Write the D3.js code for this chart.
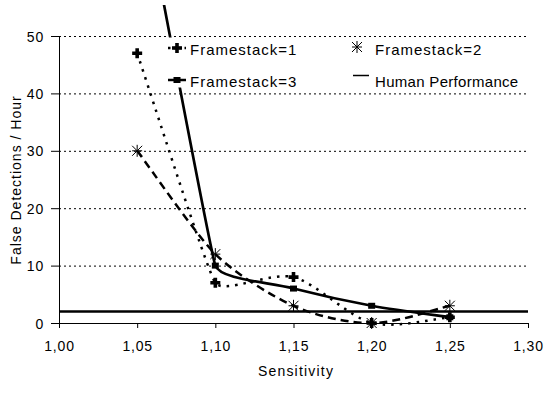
<!DOCTYPE html>
<html><head><meta charset="utf-8">
<script src="https://cdn.jsdelivr.net/npm/d3@7"></script>
<style>
html,body{margin:0;padding:0;background:#fff;}
svg{display:block;}
text{font-family:"Liberation Sans",Arial,Helvetica,sans-serif;fill:#000;}
</style></head>
<body>
<script>
const sensitivity = [1.05, 1.10, 1.15, 1.20, 1.25];
const framestack1 = [47, 7, 8, 0, 1];
const framestack2 = [30, 12, 3, 0, 3];
const framestack3 = [80, 10, 6, 3, 1];
const humanPerformance = 2;
const xTicks = [1.00, 1.05, 1.10, 1.15, 1.20, 1.25, 1.30];
const yTicks = [0, 10, 20, 30, 40, 50];
const seriesNames = ["Framestack=1", "Framestack=2", "Framestack=3", "Human Performance"];

const W = 550, H = 400;
const svg = d3.select("body").append("svg").attr("width", W).attr("height", H);

const x = d3.scaleLinear().domain([1.0, 1.3]).range([59, 528]);
const y = d3.scaleLinear().domain([0, 50]).range([323, 36]);

// Spreadsheet-like smoothing: cardinal tangents, shortened where neighbouring segments differ in length
function SmoothCurve(context) { this._context = context; }
SmoothCurve.prototype = {
  areaStart() {}, areaEnd() {},
  lineStart() { this._p = []; },
  point(px, py) { this._p.push([+px, +py]); },
  lineEnd() {
    const p = this._p, n = p.length, c = this._context;
    if (!n) return;
    c.moveTo(p[0][0], p[0][1]);
    if (n === 1) return;
    const dist = (a, b) => Math.hypot(b[0] - a[0], b[1] - a[1]);
    const tan = p.map((pt, i) => {
      if (i === 0) return [(p[1][0] - pt[0]) / 6, (p[1][1] - pt[1]) / 6];
      if (i === n - 1) return [(pt[0] - p[i - 1][0]) / 6, (pt[1] - p[i - 1][1]) / 6];
      const d0 = dist(p[i - 1], pt), d1 = dist(pt, p[i + 1]);
      const f = Math.min(d0, d1) / Math.max(d0, d1) / 6;
      return [(p[i + 1][0] - p[i - 1][0]) * f, (p[i + 1][1] - p[i - 1][1]) * f];
    });
    for (let i = 0; i < n - 1; i++) {
      const a = p[i], b = p[i + 1];
      c.bezierCurveTo(a[0] + tan[i][0], a[1] + tan[i][1], b[0] - tan[i + 1][0], b[1] - tan[i + 1][1], b[0], b[1]);
    }
  }
};
const smooth = ctx => new SmoothCurve(ctx);

// gridlines
svg.append("g").selectAll("line").data(yTicks.filter(d => d > 0)).join("line")
  .attr("x1", x(1.0)).attr("x2", x(1.3))
  .attr("y1", d => y(d) + 0.5).attr("y2", d => y(d) + 0.5)
  .attr("stroke", "#000").attr("stroke-width", 1).attr("stroke-dasharray", "2,3");

const fmt = d => d3.format(".2f")(d).replace(".", ",");

// x axis
const xAxis = svg.append("g").attr("transform", `translate(0,${y(0)})`)
  .call(d3.axisBottom(x).tickValues(xTicks).tickFormat(fmt).tickSize(5).tickSizeOuter(0));
xAxis.selectAll("text").attr("font-size", 14).attr("dy", "0").attr("y", 28)
  .attr("letter-spacing", 0.8).attr("font-family", "Liberation Sans, Arial, sans-serif");

// y axis
const yAxis = svg.append("g").attr("transform", `translate(${x(1.0)},0)`)
  .call(d3.axisLeft(y).tickValues(yTicks).tickFormat(d3.format("d")).tickSize(8).tickSizeOuter(0));
yAxis.selectAll("text").attr("font-size", 14).attr("x", -15).attr("dy", "0.36em")
  .attr("letter-spacing", 0.8).attr("font-family", "Liberation Sans, Arial, sans-serif");

// human performance line
svg.append("line").attr("x1", x(1.0)).attr("x2", x(1.3))
  .attr("y1", y(humanPerformance)).attr("y2", y(humanPerformance))
  .attr("stroke", "#000").attr("stroke-width", 2.5);

// clip for series
svg.append("clipPath").attr("id", "clip").append("rect")
  .attr("x", 0).attr("y", 5).attr("width", W).attr("height", H - 5);

const line = d3.line().x(d => x(d[0])).y(d => y(d[1])).curve(smooth);
const g = svg.append("g").attr("clip-path", "url(#clip)");

const s1 = sensitivity.map((s, i) => [s, framestack1[i]]);
const s2 = sensitivity.map((s, i) => [s, framestack2[i]]);
const s3 = sensitivity.map((s, i) => [s, framestack3[i]]);

g.append("path").datum(s1).attr("d", line).attr("fill", "none").attr("stroke", "#000")
  .attr("stroke-width", 2.5).attr("stroke-dasharray", "2.5,6");
g.append("path").datum(s2).attr("d", line).attr("fill", "none").attr("stroke", "#000")
  .attr("stroke-width", 2.5).attr("stroke-dasharray", "8,5");
g.append("path").datum(s3).attr("d", line).attr("fill", "none").attr("stroke", "#000")
  .attr("stroke-width", 2.7);

// markers
const plusPath = "M-1.8,-5H1.8V-1.8H5V1.8H1.8V5H-1.8V1.8H-5V-1.8H-1.8Z";
function plus(sel, cx, cy) { sel.append("path").attr("d", plusPath).attr("transform", `translate(${cx},${cy})`).attr("fill", "#000"); }
function star(sel, cx, cy) {
  const r = 5;
  sel.append("path").attr("transform", `translate(${cx},${cy})`)
    .attr("d", `M${-r},${-r}L${r},${r}M${-r},${r}L${r},${-r}M0,${-r - 1}L0,${r + 1}M${-r},0L${r},0`)
    .attr("stroke", "#000").attr("stroke-width", 1).attr("fill", "none");
}
function square(sel, cx, cy) { sel.append("rect").attr("x", cx - 3.5).attr("y", cy - 3).attr("width", 7).attr("height", 6).attr("fill", "#000"); }

const mk = svg.append("g").attr("clip-path", "url(#clip)");
s3.forEach(d => square(mk, x(d[0]), y(d[1])));
s1.forEach(d => plus(mk, x(d[0]), y(d[1])));
s2.forEach(d => star(mk, x(d[0]), y(d[1])));

// legend
const lg = svg.append("g");
lg.append("rect").attr("x", 165).attr("y", 37.5).attr("width", 368).attr("height", 50).attr("fill", "#fff");
// row 1
lg.append("line").attr("x1", 168).attr("x2", 186).attr("y1", 48).attr("y2", 48)
  .attr("stroke", "#000").attr("stroke-width", 2.5).attr("stroke-dasharray", "2.5,3");
plus(lg, 177, 48);
lg.append("text").attr("x", 190).attr("y", 54.5).attr("font-size", 15).attr("letter-spacing", 1).text(seriesNames[0]);
star(lg, 357, 47);
lg.append("text").attr("x", 375).attr("y", 54.5).attr("font-size", 15).attr("letter-spacing", 1).text(seriesNames[1]);
// row 2
lg.append("line").attr("x1", 168).attr("x2", 186).attr("y1", 80).attr("y2", 80)
  .attr("stroke", "#000").attr("stroke-width", 2.5);
square(lg, 177, 80);
lg.append("text").attr("x", 190).attr("y", 87).attr("font-size", 15).attr("letter-spacing", 1).text(seriesNames[2]);
lg.append("line").attr("x1", 353).attr("x2", 369).attr("y1", 75.5).attr("y2", 75.5)
  .attr("stroke", "#000").attr("stroke-width", 1.5);
lg.append("text").attr("x", 375).attr("y", 86.5).attr("font-size", 15).attr("letter-spacing", 0.3).text(seriesNames[3]);

// axis titles
svg.append("text").attr("x", 296).attr("y", 376).attr("text-anchor", "middle")
  .attr("font-size", 14).attr("letter-spacing", 1.2).text("Sensitivity");
svg.append("text").attr("transform", `translate(21,180) rotate(-90)`).attr("text-anchor", "middle")
  .attr("font-size", 14).attr("letter-spacing", 1).text("False Detections / Hour");
</script>
</body></html>
